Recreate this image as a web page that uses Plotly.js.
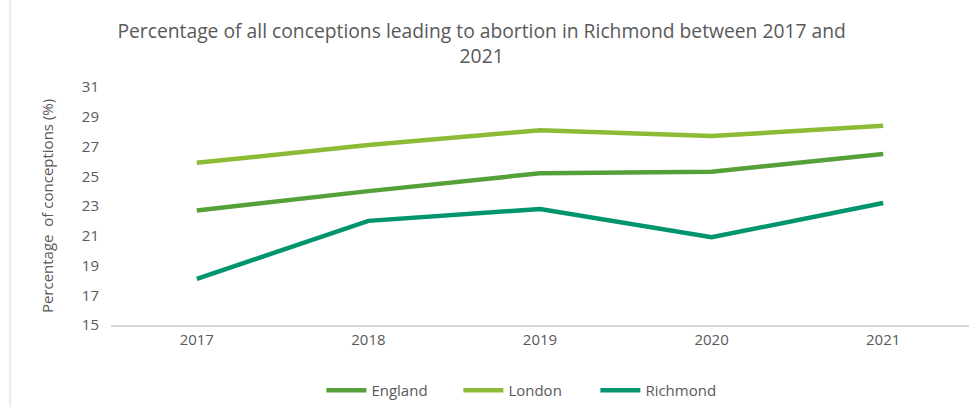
<!DOCTYPE html>
<html>
<head>
<meta charset="utf-8">
<script src="https://cdn.plot.ly/plotly-3.0.1.min.js"></script>
<style>html,body{margin:0;padding:0;background:#fff;} #chart{width:973px;height:407px;}</style>
</head>
<body>
<div id="chart"></div>
<script>
const years = ['2017', '2018', '2019', '2020', '2021'];
const england = [22.7, 24.0, 25.2, 25.3, 26.5];
const london = [25.9, 27.1, 28.1, 27.7, 28.4];
const richmond = [18.1, 22.0, 22.8, 20.9, 23.2];
const seriesNames = ['England', 'London', 'Richmond'];
const seriesColors = ['#56a03a', '#8cbb35', '#00956f'];
const yTicks = [15, 17, 19, 21, 23, 25, 27, 29, 31];

const FONT = '"Open Sans", sans-serif';
const data = [england, london, richmond].map((vals, i) => ({
  x: years, y: vals, type: 'scatter', mode: 'lines', name: seriesNames[i],
  line: {color: seriesColors[i], width: 4.5}
}));

const layout = {
  width: 973, height: 407,
  margin: {l: 111, r: 4, t: 87, b: 82},
  paper_bgcolor: '#fff', plot_bgcolor: '#fff',
  font: {family: FONT, color: '#595959', size: 15},
  title: {
    text: 'Percentage of all conceptions leading to abortion in Richmond between 2017 and<br>2021',
    font: {family: FONT, size: 19.3, color: '#595959'},
    xref: 'container', x: 0.495, xanchor: 'center',
    yref: 'container', y: 0.906, yanchor: 'top'
  },
  xaxis: {
    type: 'category', range: [-0.5, 4.5],
    showline: true, linecolor: '#d9d9d9', linewidth: 1.5,
    showgrid: false, zeroline: false, ticks: '', ticklen: 0,
    tickfont: {size: 15, color: '#595959'}
  },
  yaxis: {
    range: [15, 31], tickvals: yTicks, ticktext: yTicks.map(String),
    showgrid: false, zeroline: false, showline: false, ticks: '',
    ticklabelstandoff: 11,
    tickfont: {size: 15, color: '#595959'},
    title: {text: 'Percentage  of conceptions (%)', font: {size: 15, color: '#595959'}, standoff: 24}
  },
  legend: {
    orientation: 'h', xref: 'container', yref: 'container',
    x: 0.5415, xanchor: 'center', y: -0.01, yanchor: 'bottom',
    font: {size: 15, color: '#595959'}, itemwidth: 40, traceorder: 'normal',
    entrywidth: 82, entrywidthmode: 'pixels'
  },
  shapes: [{
    type: 'line', xref: 'paper', yref: 'paper',
    x0: (10 - 111) / 858, x1: (10 - 111) / 858, y0: -82 / 238, y1: 1 + 87 / 238,
    line: {color: '#d9d9d9', width: 1}
  }],
  showlegend: true
};

Plotly.newPlot('chart', data, layout, {displayModeBar: false, staticPlot: true});
</script>
</body>
</html>
